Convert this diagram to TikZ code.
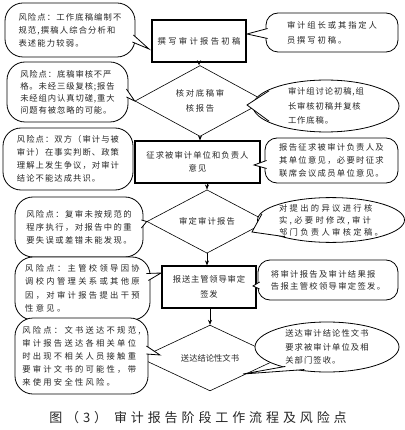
\documentclass[tikz,border=0pt]{standalone}
\usepackage{fontspec}
\newfontfamily\cjk{Noto Sans CJK SC}
\usetikzlibrary{shapes.geometric,arrows.meta,calc}
\newcommand\fsz[2]{\cjk\fontsize{8.3}{#1}\selectfont\addfontfeature{LetterSpace=#2}}
\tikzset{
  bub/.style={draw, line width=0.8pt, fill=white, rounded corners=18pt, inner sep=0pt, align=left, text=black!85},
  ell/.style={draw, line width=0.8pt, fill=white, ellipse, inner sep=0pt, align=left, text=black!85},
  stepbox/.style={draw, line width=1.2pt, inner sep=0pt, align=center, fill=white, text=black!85},
  dia/.style={draw, line width=0.6pt, diamond, inner sep=0pt, align=center, text=black!85},
  arr/.style={-{Stealth[length=5pt,width=4pt]}, line width=0.6pt},
  tail/.style={draw, line width=0.8pt, fill=white, line join=miter}
}
\begin{document}
\begin{tikzpicture}[x=1pt,y=-1pt]
\useasboundingbox (0,0) rectangle (404,430);
% main flow
\node[stepbox, minimum width=94pt, minimum height=42pt, font=\fsz{13}{28}] (B1) at (199,41) {撰写审计报告初稿};
\node[dia, minimum width=130pt, minimum height=58pt, font=\fsz{15}{20}] (D1) at (200,101) {核对底稿审\\核报告};
\node[stepbox, minimum width=125pt, minimum height=42pt, font=\fsz{13}{13}] (B2) at (197.5,162) {征求被审计单位和负责人\\意见};
\node[dia, minimum width=120pt, minimum height=57pt, font=\fsz{13}{14}] (D2) at (207,221.5) {审定审计报告};
\node[stepbox, minimum width=94pt, minimum height=42pt, font=\fsz{15}{10}] (B3) at (209,287) {报送主管领导审定\\签发};
\node[dia, minimum width=140pt, minimum height=60pt, font=\fsz{13}{0}] (D3) at (210,358) {送达结论性文书};
\draw[arr] (B1.south) -- (B1.south |- D1.north);
\draw[arr] (D1.south) -- (D1.south |- B2.north);
\draw[arr] (B2.south -| D2.north) -- (D2.north);
\draw[arr] (D2.south) -- (D2.south |- B3.north);
\draw[arr] (B3.south -| D3.north) -- (D3.north);
% tips
\coordinate (t1) at (149,49);
\coordinate (t2) at (247,34);
\coordinate (t3) at (247,105);
\coordinate (t4) at (254,165);
\coordinate (t5) at (252,232);
\coordinate (t6) at (161,273);
\coordinate (t7) at (253,286);
\coordinate (t8) at (160,355);
\coordinate (t9) at (243,374);
% callouts
\node[bub, minimum width=130pt, minimum height=54pt, font=\fsz{13}{14}] (L1) at (70,30) {风险点：工作底稿编制不\\规范,撰稿人综合分析和\\表述能力较弱。};
\draw[tail] ($(L1.east)+(-2,5)$) -- (t1) -- ($(L1.east)+(-3,12)$);
\node[bub, rounded corners=12pt, minimum width=132pt, minimum height=39pt, font=\fsz{15}{23}] (R1) at (332,32.5) {审计组长或其指定人\\员撰写初稿。};
\draw[tail] ($(R1.west)+(2,-4)$) -- (t2) -- ($(R1.west)+(2,6)$);
\node[bub, minimum width=121pt, minimum height=60pt, font=\fsz{12}{11}] (L2) at (67.5,92) {风险点：底稿审核不严\\格。未经三级复核;报告\\未经组内认真切磋,重大\\问题有被忽略的可能。};
\draw[tail] ($(L2.east)+(-2,-3)$) -- (D1.west) -- ($(L2.east)+(-2,5)$);
\node[ell, minimum width=146pt, minimum height=44pt, font=\fsz{14.5}{11}] (R2) at (326,106) {审计组讨论初稿,组\\长审核初稿并复核\\工作底稿。};
\draw[tail] ($(R2.165)!2pt!(R2.center)$) -- (t3) -- ($(R2.195)!2pt!(R2.center)$);
\node[bub, minimum width=130pt, minimum height=62pt, font=\fsz{13}{13}] (L3) at (68,159) {风险点：双方（审计与被\\审计）在事实判断、政策\\理解上发生争议，对审计\\结论不能达成共识。};
\node[bub, rounded corners=12pt, minimum width=133pt, minimum height=45pt, font=\fsz{13}{16}] (R3) at (331.5,160.5) {报告征求被审计负责人及\\其单位意见，必要时征求\\联席会议成员单位意见。};
\draw[tail] ($(R3.west)+(2,0)$) -- (t4) -- ($(R3.west)+(2,8)$);
\node[bub, minimum width=128pt, minimum height=60pt, font=\fsz{13}{17}] (L4) at (79,227) {风险点：复审未按规范的\\程序执行，对报告中的重\\要失误或差错未能发现。};
\draw[tail] ($(L4.east)+(-2,-7)$) -- (D2.west) -- ($(L4.east)+(-2,1)$);
\node[ell, minimum width=138pt, minimum height=44pt, font=\fsz{12}{28}] (R4) at (331,220) {对提出的异议进行核\\实,必要时修改,审计\\部门负责人审核定稿。};
\draw[tail] ($(R4.175)!2pt!(R4.center)$) -- (t5) -- ($(R4.200)!2pt!(R4.center)$);
\node[bub, minimum width=135pt, minimum height=63pt, font=\fsz{13.5}{28}] (L5) at (82.5,288.5) {风险点：主管校领导因协\\调校内管理关系或其他原\\因，对审计报告提出干预\\性意见。};
\draw[tail] ($(L5.east)+(-4,-15)$) -- (t6) -- ($(L5.east)+(-2,-8)$);
\node[bub, rounded corners=12pt, minimum width=140pt, minimum height=40pt, font=\fsz{12}{16}] (R5) at (328,280) {将审计报告及审计结果报\\告报主管校领导审定签发。};
\draw[tail] ($(R5.west)+(2,2)$) -- (t7) -- ($(R5.west)+(2,9)$);
\node[bub, minimum width=133pt, minimum height=76pt, font=\fsz{13}{27}] (L6) at (81.5,356) {风险点：文书送达不规范,\\审计报告送达各相关单位\\时出现不相关人员接触重\\要审计文书的可能性，带\\来使用安全性风险。};
\draw[tail] ($(L6.east)+(-2,-10)$) -- (t8) -- ($(L6.east)+(-2,-2)$);
\node[ell, minimum width=144pt, minimum height=50pt, font=\fsz{13.5}{13}] (R6) at (327,347) {送达审计结论性文书\\要求被审计单位及相\\关部门签收。};
\draw[tail] ($(R6.205)!2pt!(R6.center)$) -- (t9) -- ($(R6.225)!2pt!(R6.center)$);
% caption
\node[font={\cjk\fontsize{13}{15}\selectfont\addfontfeature{LetterSpace=30}}, text=black!85] (cap) at (198,418) {图（3） 审计报告阶段工作流程及风险点};
\end{tikzpicture}
\end{document}
